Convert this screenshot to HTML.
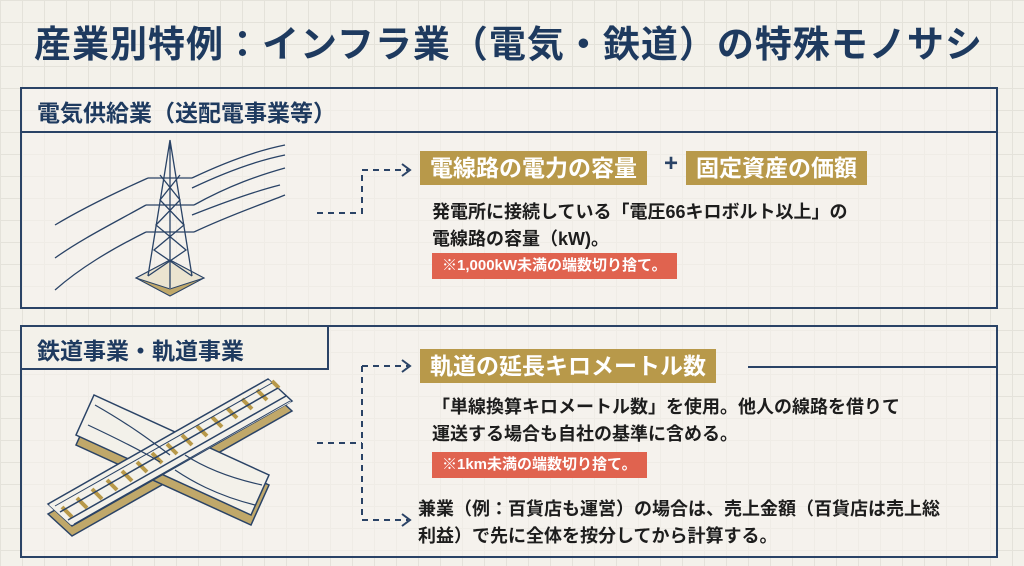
<!DOCTYPE html>
<html><head><meta charset="utf-8"><style>
body{margin:0;width:1024px;height:566px;overflow:hidden;background:#f3f1ea;
background-image:linear-gradient(#e4e2da 1px,transparent 1px),linear-gradient(90deg,#e4e2da 1px,transparent 1px);background-size:22px 22px;
font-family:"Liberation Sans","Noto Sans CJK JP",sans-serif;color:#1d1d1d;position:relative}
.a{position:absolute;white-space:nowrap}
.t{left:34px;top:14px;font-size:37px;font-weight:bold;color:#1e3a5f;letter-spacing:1px}
.box{position:absolute;border:2px solid #2a4366;background:rgba(246,244,238,.6)}
.h{font-size:23px;font-weight:bold;color:#1e3a5f}
.gold{position:absolute;background:#b8994a;color:#fff;font-weight:bold;font-size:23px;line-height:34px;padding:0 10px}
.red{position:absolute;background:#e0634f;color:#fff;font-size:15px;font-weight:bold;line-height:26px;padding:0 10px}
.p{font-size:18px;font-weight:bold;line-height:27px}
</style></head><body>
<div class="a t">産業別特例：インフラ業（電気・鉄道）の特殊モノサシ</div>

<div class="box" style="left:20px;top:87px;width:974px;height:218px"></div>
<div class="a" style="left:22px;top:131px;width:974px;border-top:2px solid #2a4366"></div>
<div class="a h" style="left:37px;top:94px">電気供給業（送配電事業等）</div>
<div class="gold" style="left:420px;top:151px">電線路の電力の容量</div>
<div class="a" style="left:664px;top:150px;font-size:24px;font-weight:bold;color:#2a4366">+</div>
<div class="gold" style="left:686px;top:151px">固定資産の価額</div>
<div class="a p" style="left:432px;top:199px">発電所に接続している「電圧66キロボルト以上」の<br>電線路の容量（kW)。</div>
<div class="red" style="left:432px;top:253px">※1,000kW未満の端数切り捨て。</div>

<div class="box" style="left:20px;top:325px;width:974px;height:229px"></div>

<svg class="a" style="left:0;top:0" width="1024" height="566">
<g fill="none" stroke="#2a4366" stroke-width="2" stroke-dasharray="6,5">
<path d="M317 213H362V170H408"/>
<path d="M317 443H362"/><path d="M362 366V520"/><path d="M362 366H408"/><path d="M362 520H408"/>
</g>
<g fill="none" stroke="#2a4366" stroke-width="2">
<path d="M402 164l8 6-8 6"/><path d="M402 360l8 6-8 6"/><path d="M402 514l8 6-8 6"/>
</g>
<!-- tower -->
<polygon points="136,278 170,260 204,278 170,296" fill="#c0a86a" stroke="#2a4366"/>
<polygon points="136,278 170,260 204,278 170,289" fill="#ebe4d0" stroke="#2a4366"/>
<g fill="none" stroke="#2a4366" stroke-width="1.3">
<path d="M170 140L148 276M170 140L192 276M170 140L170 288"/>
<path d="M160 175L180 200L156 225L186 250L148 276M180 175L160 200L184 225L154 250L192 276"/>
<path d="M148 178h44M146 205h48M146 232h48"/>
<path d="M192 178C230 160 260 150 285 145M194 205C230 185 260 175 285 168M194 232C230 215 260 205 285 195M148 178C110 195 80 210 55 225M146 205C110 225 80 240 55 258M146 232C110 250 80 268 55 290M192 188C230 170 260 160 285 155M192 215C230 200 260 190 280 185"/>
</g>
<!-- tracks -->
<g stroke="#2a4366" stroke-width="1.5" fill="#c0a86a" transform="translate(0,10)">
<polygon points="48,504 72,526 292,401 268,379"/>
<polygon points="94,395 76,435 251,515 269,475"/>
</g>
<g stroke="#2a4366" stroke-width="1.5" fill="#f3f1ea">
<polygon points="94,395 76,435 251,515 269,475"/>
<polygon points="48,504 72,526 292,401 268,379"/>
</g>
<polygon points="49,505 71,525 291,402 269,380" fill="#f3f1ea"/>
<g stroke="#b8994a" stroke-width="4">
<path d="M62 507l10 10M77 498l10 10M92 489l10 10M107 480l10 10M122 471l10 10M137 462l10 10M152 453l10 10M167 444l10 10M182 435l10 10M197 426l10 10M212 417l10 10M227 408l10 10M242 399l10 10M257 390l10 10M272 381l7 7"/>
</g>
<g stroke="#2a4366" stroke-width="1.5" fill="none">
<path d="M60 512L278 388M68 520L286 396"/>
<path d="M55 506L272 383M74 524L290 401" stroke-width="1"/>
<path d="M95 405C130 425 150 440 170 455M88 425C120 440 140 450 160 462M175 470C190 480 215 495 255 505M185 455C205 468 230 478 262 485" stroke-width="1.2"/>
</g>
</svg>

<div class="a" style="left:20px;top:325px;width:305px;height:41px;border-top:2px solid #2a4366;border-left:2px solid #2a4366;border-right:2px solid #2a4366;border-bottom:2px solid #2a4366;background:#f3f1ea"></div>
<div class="a h" style="left:37px;top:332px">鉄道事業・軌道事業</div>
<div class="a" style="left:748px;top:366px;width:248px;border-top:2px solid #2a4366"></div>
<div class="gold" style="left:420px;top:349px">軌道の延長キロメートル数</div>
<div class="a p" style="left:432px;top:394px">「単線換算キロメートル数」を使用。他人の線路を借りて<br>運送する場合も自社の基準に含める。</div>
<div class="red" style="left:432px;top:452px">※1km未満の端数切り捨て。</div>
<div class="a p" style="left:418px;top:496px">兼業（例：百貨店も運営）の場合は、売上金額（百貨店は売上総<br>利益）で先に全体を按分してから計算する。</div>
</body></html>
